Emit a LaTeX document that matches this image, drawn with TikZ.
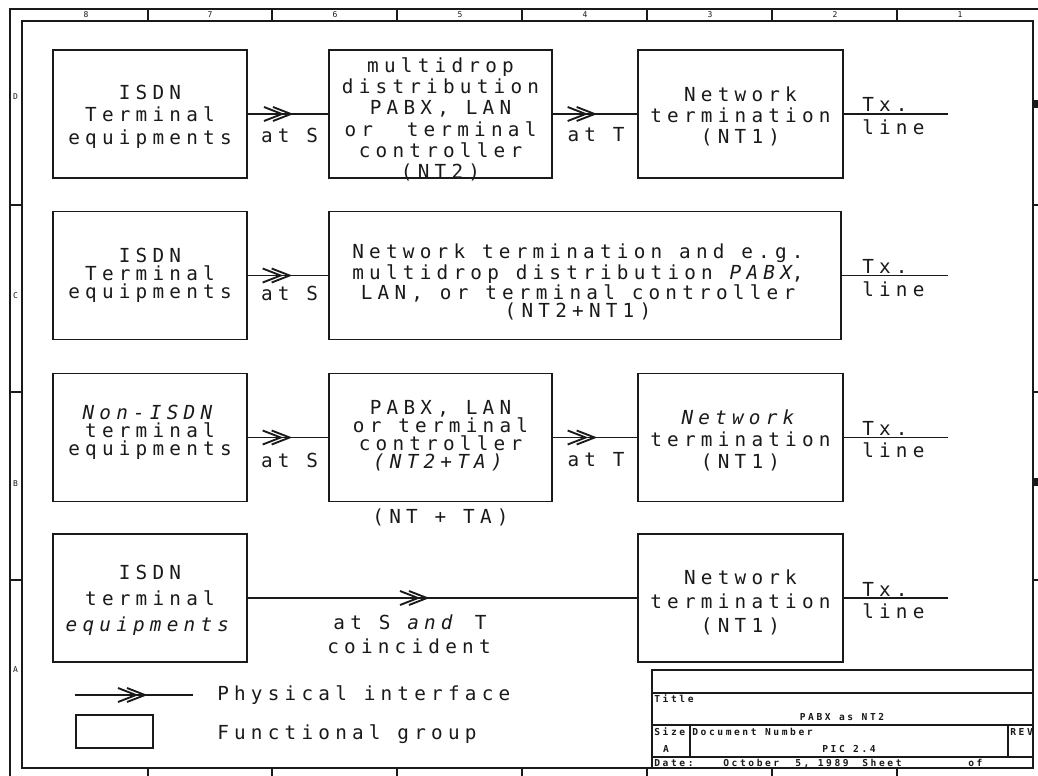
\documentclass[tikz,border=0pt]{standalone}
\usepackage{fontspec}
\usetikzlibrary{decorations.markings}
\newfontfamily\plotf[LetterSpace=27]{DejaVu Sans Mono}
\newfontfamily\tbf[LetterSpace=27]{DejaVu Sans Mono}
\definecolor{ink}{HTML}{1A1A1A}
\begin{document}
\begin{tikzpicture}[x=0.75pt,y=-0.75pt,
  fg/.style={draw=ink, line width=1.4pt, inner sep=0pt, outer sep=0pt, minimum height=96pt},
  abox/.style={fg, minimum width=145.5pt},
  bbox/.style={fg, minimum width=167.25pt},
  cbox/.style={fg, minimum width=153.75pt},
  wbox/.style={fg, minimum width=384pt},
  txt/.style={text=ink, font=\plotf\fontsize{14.5pt}{#1}\selectfont, align=center, inner sep=0pt},
  lbl/.style={text=ink, font=\plotf\fontsize{14.5pt}{16pt}\selectfont, inner sep=0pt},
  conn/.style={draw=ink, line width=1.4pt},
  chev/.style={postaction={decorate, decoration={markings, mark=at position #1 with {\draw[ink, line width=1.4pt, line join=miter] (-18,-7)--(0,0)--(-18,7) (-27,-7)--(-9,0)--(-27,7);}}}},
  frm/.style={draw=ink, line width=1.3pt},
  tb/.style={text=ink, font=\tbf\bfseries\fontsize{7.2pt}{8pt}\selectfont, inner sep=0pt},
  mlabel/.style={text=ink, font=\tbf\fontsize{6pt}{6pt}\selectfont, inner sep=0pt}
]
\useasboundingbox (0,0) rectangle (1038,775);
\clip (0,0) rectangle (1038,775);
\fill[white] (0,0) rectangle (1038,775);

% drawing frame
\draw[frm] (10,790) -- (10,9) -- (1050,9);
\draw[frm] (22,21) rectangle (1033,768);
\foreach \x in {148,272,397,522,647,772,897} {
  \draw[frm] (\x,9) -- (\x,21);
  \draw[frm] (\x,768) -- (\x,780);
}
\foreach \y in {205,392,580} {
  \draw[frm] (10,\y) -- (22,\y);
  \draw[frm] (1033,\y) -- (1045,\y);
}
\foreach \x/\t in {86/8,210/7,335/6,460/5,585/4,710/3,835/2,960/1}
  \node[mlabel] (top\t) at (\x,15) {\t};
\foreach \y/\t in {97/D,296/C,484/B,670/A}
  \node[mlabel] (side\t) at (15.5,\y) {\t};
\fill[ink] (1034,100) rectangle (1038,108);
\fill[ink] (1034,478) rectangle (1038,486);

% row 1
\node[abox] (a1) at (150,114) {};
\node[txt=16.9pt] (a1t) at (150,116.5) {ISDN\\Terminal\\equipments};
\node[bbox] (b1) at (440.5,114) {};
\node[txt=16pt] (b1t) at (440.5,119.5) {multidrop\\distribution\\PABX, LAN\\or~~terminal\\controller\\(NT2)};
\node[cbox] (c1) at (740.5,114) {};
\node[txt=15.75pt] (c1t) at (740.5,116) {Network\\termination\\(NT1)};
\coordinate (e1) at (948,114);
\draw[conn, chev=33pt] (a1) -- (b1);
\draw[conn, chev=32pt] (b1) -- (c1);
\draw[conn] (c1) -- (e1);
\node[lbl] (s1) at (289.5,135) {at S};
\node[lbl] (t1) at (596,135) {at T};
\node[lbl, anchor=base west] (tx1) at (862,111) {Tx.};
\node[lbl, anchor=base west] (ln1) at (862,134) {line};

% row 2
\node[abox] (a2) at (150,275.5) {};
\node[txt=13.3pt] (a2t) at (150,275.5) {ISDN\\Terminal\\equipments};
\node[wbox] (b2) at (585,275.5) {};
\node[txt=13.5pt] (b2t) at (578,282) {Network termination and e.g.\\multidrop distribution \textit{PABX},\\LAN, or terminal controller\\(NT2+NT1)};
\coordinate (e2) at (948,275.5);
\draw[conn, chev=32pt] (a2) -- (b2);
\draw[conn] (b2) -- (e2);
\node[lbl] (s2) at (289.5,293) {at S};
\node[lbl, anchor=base west] (tx2) at (862,273.5) {Tx.};
\node[lbl, anchor=base west] (ln2) at (862,296) {line};

% row 3
\node[abox] (a3) at (150,437.5) {};
\node[txt=13.5pt] (a3t) at (150,432) {\textit{Non-ISDN}\\terminal\\equipments};
\node[bbox] (b3) at (440.5,437.5) {};
\node[txt=13.5pt] (b3t) at (440.5,436) {PABX, LAN\\or terminal\\controller\\\textit{(NT2+TA)}};
\node[cbox] (c3) at (740.5,437.5) {};
\node[txt=16.5pt] (c3t) at (740.5,440) {\textit{Network}\\termination\\(NT1)};
\coordinate (e3) at (948,437.5);
\draw[conn, chev=32pt] (a3) -- (b3);
\draw[conn, chev=32pt] (b3) -- (c3);
\draw[conn] (c3) -- (e3);
\node[lbl] (s3) at (289.5,460) {at S};
\node[lbl] (t3) at (596,460) {at T};
\node[lbl, anchor=base west] (tx3) at (862,435.5) {Tx.};
\node[lbl, anchor=base west] (ln3) at (862,457) {line};
\node[lbl] (ntta) at (440.5,517) {(NT + TA)};

% row 4
\node[abox] (a4) at (150,598) {};
\node[txt=19.5pt] (a4t) at (150,600) {ISDN\\terminal\\\textit{equipments}};
\node[cbox] (c4) at (740.5,598) {};
\node[txt=18pt] (c4t) at (740.5,602) {Network\\termination\\(NT1)};
\coordinate (e4) at (948,598);
\draw[conn, chev=135pt] (a4) -- (c4);
\draw[conn] (c4) -- (e4);
\node[lbl] (st4) at (410,622) {at S \textit{and} T};
\node[lbl] (co4) at (409,646) {coincident};
\node[lbl, anchor=base west] (tx4) at (862,596) {Tx.};
\node[lbl, anchor=base west] (ln4) at (862,618) {line};

% legend
\coordinate (lg1) at (75,695);
\coordinate (lg2) at (193,695);
\draw[conn, chev=52.5pt] (lg1) -- (lg2);
\node[lbl, anchor=base west] (pit) at (217,700) {Physical interface};
\node[fg, minimum width=57.75pt, minimum height=24.75pt] (lgbox) at (114.5,731.5) {};
\node[lbl, anchor=base west] (fgt) at (217,739) {Functional group};

% title block
\draw[frm] (652,670) rectangle (1033,768);
\draw[frm] (652,693) -- (1033,693);
\draw[frm] (652,725) -- (1033,725);
\draw[frm] (652,757) -- (1033,757);
\draw[frm] (690,725) -- (690,757);
\draw[frm] (1008,725) -- (1008,757);
\node[tb, anchor=base west] (ttl) at (654,702) {Title};
\node[tb, anchor=base] (ttlv) at (842,720) {PABX as NT2};
\node[tb, anchor=base west] (sz) at (654,735) {Size};
\node[tb, anchor=base west] (dn) at (692,735) {Document Number};
\node[tb, anchor=base west] (rev) at (1010,735) {REV};
\node[tb, anchor=base] (szv) at (666,752) {A};
\node[tb, anchor=base] (dnv) at (849,752) {PIC 2.4};
\node[tb, anchor=base west] (dt) at (654,766) {Date:};
\node[tb, anchor=base west] (dtv) at (723,766) {October};
\node[tb, anchor=base west] (dty) at (795,766) {5, 1989};
\node[tb, anchor=base west] (sh) at (862,766) {Sheet};
\node[tb, anchor=base west] (of) at (968,766) {of};
\end{tikzpicture}
\end{document}
